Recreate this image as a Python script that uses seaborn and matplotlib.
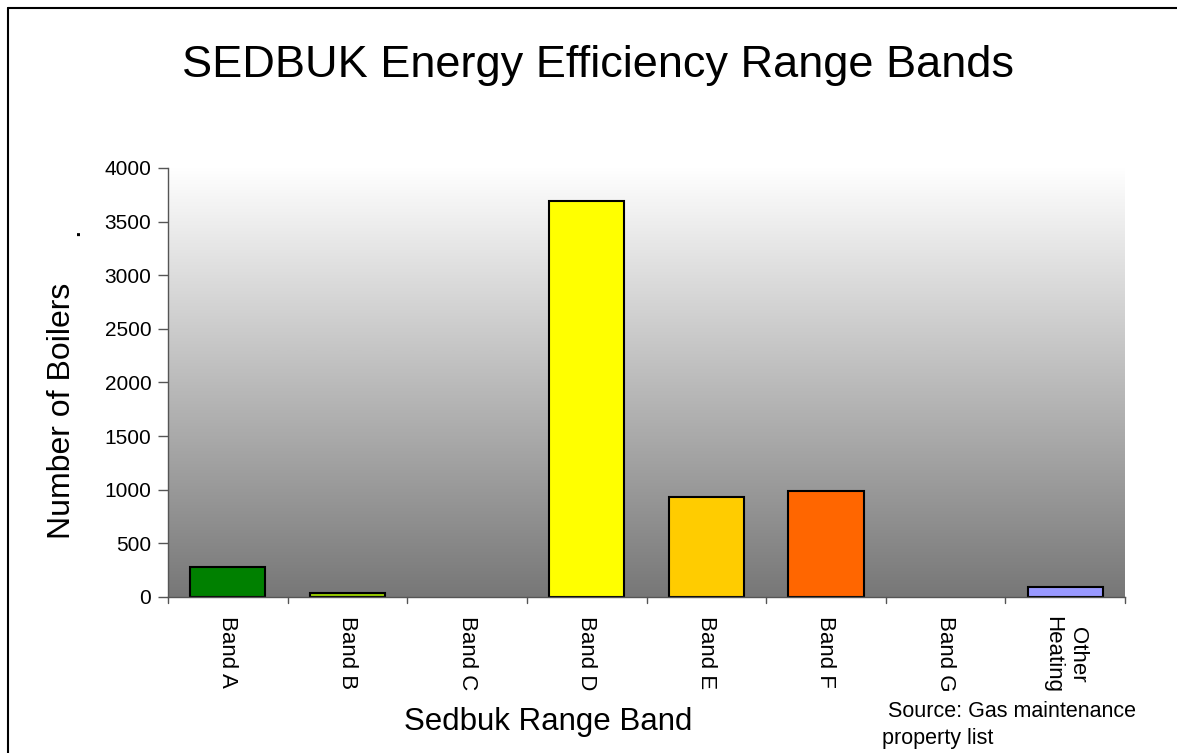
import numpy as np
import pandas as pd
import matplotlib
matplotlib.use("Agg")
import matplotlib.pyplot as plt
from matplotlib.lines import Line2D
from matplotlib.colors import LinearSegmentedColormap
import seaborn as sns

bands = ["Band A", "Band B", "Band C", "Band D", "Band E", "Band F", "Band G", "Other\nHeating"]
boilers = [280, 40, 0, 3690, 930, 985, 0, 95]
bar_colors = ["#008000", "#99CC00", "#FFFFFF", "#FFFF00", "#FFCC00", "#FF6600", "#FFFFFF", "#9999FF"]
y_ticks = [0, 500, 1000, 1500, 2000, 2500, 3000, 3500, 4000]

sns.set_theme(style="white")
plt.rcParams["font.family"] = ["Liberation Sans", "DejaVu Sans"]

W, H = 1177, 753
fig = plt.figure(figsize=(W / 100, H / 100), dpi=100)
fig.patch.set_facecolor("white")
ax = fig.add_axes([168 / W, 1 - 597 / H, (1125 - 168) / W, (597 - 168) / H])

# vertical white-to-grey gradient behind the bars
grad = np.linspace(0, 1, 256).reshape(-1, 1)
cmap = LinearSegmentedColormap.from_list("bg", ["#ffffff", "#777777"])
ax.imshow(grad, aspect="auto", cmap=cmap, extent=[0, 1, 0, 1],
          transform=ax.transAxes, zorder=0, interpolation="bicubic")

df = pd.DataFrame({"band": bands, "count": boilers})
palette = dict(zip(bands, bar_colors))
sns.barplot(data=df, x="band", y="count", hue="band", palette=palette,
            order=bands, hue_order=bands, legend=False, width=0.63,
            edgecolor="black", linewidth=1.5, saturation=1, ax=ax, zorder=2)
for patch, v in zip(ax.patches, boilers):
    if v == 0:
        patch.set_visible(False)

ax.set_xlim(-0.5, len(bands) - 0.5)
ax.set_ylim(0, 4000)
ax.set_yticks(y_ticks)
ax.set_yticklabels([str(t) for t in y_ticks], fontsize=15, color="black")
ax.set_xticks(np.arange(len(bands)))
ax.set_xticklabels(bands, rotation=270, fontsize=16, color="black",
                   va="top", ha="center", linespacing=1.25)
ax.tick_params(axis="x", length=0, pad=14)
ax.tick_params(axis="y", length=7, width=1, color="#555555", direction="out", pad=5, left=True)

# category boundary ticks under the axis
for b in np.arange(-0.5, len(bands), 1.0):
    ax.plot([b, b], [0, -0.014], transform=ax.get_xaxis_transform(),
            color="#555555", lw=1, clip_on=False, zorder=3)

for side in ["top", "right"]:
    ax.spines[side].set_visible(False)
for side in ["left", "bottom"]:
    ax.spines[side].set_color("#555555")
    ax.spines[side].set_linewidth(1)
ax.set_xlabel("")
ax.set_ylabel("")

fig.text(62 / W, 1 - 411 / H, "Number of Boilers", rotation=90, ha="center",
         va="center", fontsize=23, color="black")
fig.text(70 / W, 1 - 232 / H, ".", rotation=90, ha="center", va="center",
         fontsize=23, color="black")
fig.text(598 / W, 1 - 66 / H, "SEDBUK Energy Efficiency Range Bands",
         ha="center", va="center", fontsize=32.5, color="black")
fig.text(548 / W, 1 - 722 / H, "Sedbuk Range Band", ha="center", va="center",
         fontsize=22.5, color="black")
fig.text(882 / W, 1 - 725 / H, " Source: Gas maintenance\nproperty list", ha="left",
         va="center", fontsize=15.5, color="black", linespacing=1.35)

# outer frame of the chart
fig.add_artist(Line2D([8 / W, 8 / W], [0, 1 - 8 / H], transform=fig.transFigure,
                      color="black", lw=1.5))
fig.add_artist(Line2D([8 / W, 1], [1 - 8 / H, 1 - 8 / H], transform=fig.transFigure,
                      color="black", lw=1.5))

fig.savefig("out.png", dpi=100, facecolor="white")
